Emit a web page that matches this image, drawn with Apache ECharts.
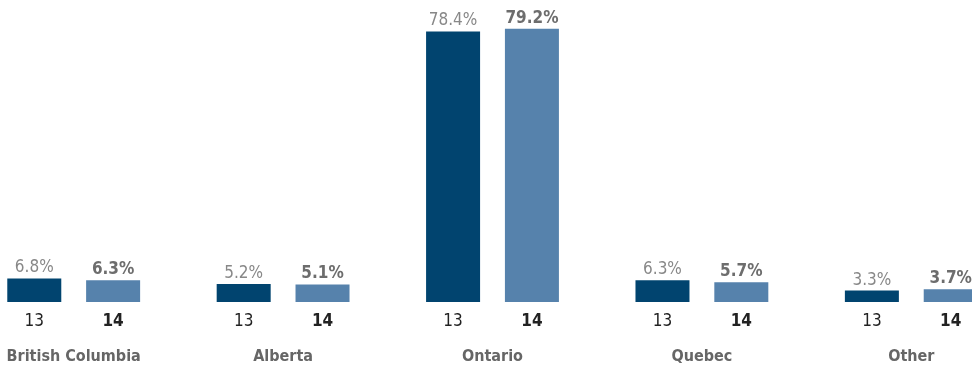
<!DOCTYPE html>
<html><head><meta charset="utf-8">
<script src="https://cdn.jsdelivr.net/npm/echarts@6/dist/echarts.min.js"></script>
<style>html,body{margin:0;padding:0;background:#fff}#c{width:972px;height:366px}</style>
</head><body><div id="c"></div>
<script>
const categories = ['British Columbia', 'Alberta', 'Ontario', 'Quebec', 'Other'];
const years = ['13', '14'];
const values13 = [6.8, 5.2, 78.4, 6.3, 3.3];
const values14 = [6.3, 5.1, 79.2, 5.7, 3.7];

const FONT = '"Liberation Sans Narrow", "DejaVu Sans Condensed", "Roboto Condensed", sans-serif';
const chart = echarts.init(document.getElementById('c'));
const common = { type: 'bar', barWidth: 54, barGap: '46%', animation: false };
chart.setOption({
  animation: false,
  grid: { left: -31, width: 1047, top: 26, bottom: 64, containLabel: false, outerBoundsMode: 'none' },
  xAxis: [
    { type: 'category', data: categories, axisLine: { show: false }, axisTick: { show: false },
      axisLabel: { margin: 47, fontFamily: FONT, fontWeight: 'bold', fontSize: 16, color: '#666' } },
    { type: 'category', data: categories, show: false }
  ],
  yAxis: { type: 'value', min: 0, max: 80, show: false, splitLine: { show: false } },
  series: [
    Object.assign({}, common, { name: years[0], xAxisIndex: 0, data: values13,
      itemStyle: { color: '#01446f' },
      label: { show: true, position: 'top', distance: 2, formatter: p => p.value.toFixed(1) + '%',
        fontFamily: FONT, fontSize: 17, color: '#888' } }),
    Object.assign({}, common, { name: years[1], xAxisIndex: 0, data: values14,
      itemStyle: { color: '#5682ac' },
      label: { show: true, position: 'top', distance: 2, formatter: p => p.value.toFixed(1) + '%',
        fontFamily: FONT, fontSize: 17, fontWeight: 'bold', color: '#6d6d6d' } }),
    Object.assign({}, common, { name: years[0], xAxisIndex: 1, data: categories.map(() => 0),
      itemStyle: { color: 'rgba(0,0,0,0)' }, silent: true,
      label: { show: true, position: 'bottom', distance: 11, formatter: p => p.seriesName,
        fontFamily: FONT, fontSize: 17, color: '#222' } }),
    Object.assign({}, common, { name: years[1], xAxisIndex: 1, data: categories.map(() => 0),
      itemStyle: { color: 'rgba(0,0,0,0)' }, silent: true,
      label: { show: true, position: 'bottom', distance: 11, formatter: p => p.seriesName,
        fontFamily: FONT, fontSize: 17, fontWeight: 'bold', color: '#222' } })
  ]
});
</script></body></html>
